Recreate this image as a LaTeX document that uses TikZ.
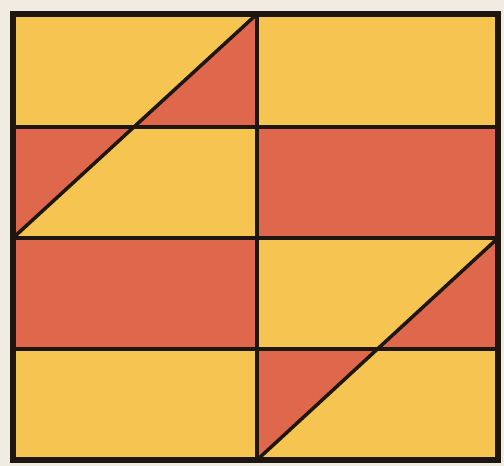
\documentclass[tikz,border=0pt]{standalone}
\definecolor{patchYellow}{RGB}{246,196,80}
\definecolor{patchRed}{RGB}{223,103,76}
\definecolor{paperTone}{RGB}{240,236,226}
\definecolor{seamInk}{RGB}{30,22,16}
\begin{document}
\begin{tikzpicture}[
    x=1pt, y=-1pt,
    yellowPatch/.style={fill=patchYellow},
    redPatch/.style={fill=patchRed},
    seamLine/.style={draw=seamInk, line width=3.5pt, line cap=round},
    borderLine/.style={draw=seamInk, line width=5.5pt, line join=miter}
]
% paper behind the quilt block
\fill[paperTone] (0,0) rectangle (504,466);
\useasboundingbox (0,0) rectangle (504,466);

% corners and seams
\coordinate (qTL) at (13,14);
\coordinate (qTR) at (498,14);
\coordinate (qBL) at (13,460);
\coordinate (qBR) at (498,460);
\coordinate (midTop) at (257,14);
\coordinate (midBot) at (257,460);
\coordinate (rowA) at (13,127);
\coordinate (rowAr) at (498,127);
\coordinate (rowB) at (13,238);
\coordinate (rowBr) at (498,238);
\coordinate (rowC) at (13,349);
\coordinate (rowCr) at (498,349);
% where the diagonals cross the seams
\coordinate (leftCross) at (135,127);
\coordinate (rightCross) at (377.5,349);

% base colours of the eight patches
\fill[yellowPatch] (13,14) rectangle (257,238);
\fill[yellowPatch] (257,14) rectangle (498,127);
\fill[redPatch] (257,127) rectangle (498,238);
\fill[redPatch] (13,238) rectangle (257,349);
\fill[yellowPatch] (257,238) rectangle (498,460);
\fill[yellowPatch] (13,349) rectangle (257,460);

% red half triangles
\fill[redPatch] (midTop) -- (257,127) -- (leftCross) -- cycle;
\fill[redPatch] (rowA) -- (leftCross) -- (rowB) -- cycle;
\fill[redPatch] (rowBr) -- (rowCr) -- (rightCross) -- cycle;
\fill[redPatch] (257,349) -- (rightCross) -- (midBot) -- cycle;

% seams
\draw[seamLine] (rowA) -- (rowAr);
\draw[seamLine] (rowB) -- (rowBr);
\draw[seamLine] (rowC) -- (rowCr);
\draw[seamLine] (midTop) -- (midBot);
\draw[seamLine] (midTop) -- (rowB);
\draw[seamLine] (rowBr) -- (midBot);

% outer border
\draw[borderLine] (qTL) rectangle (qBR);
\end{tikzpicture}
\end{document}
